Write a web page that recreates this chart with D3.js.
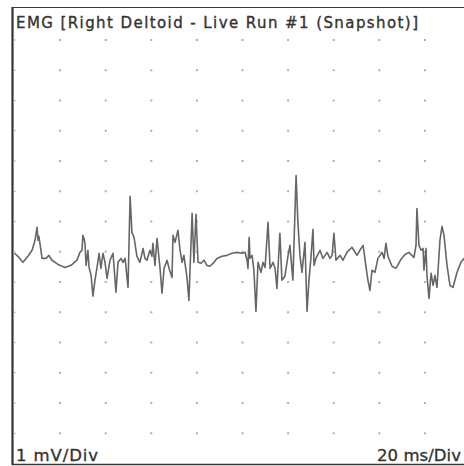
<!DOCTYPE html>
<html>
<head>
<meta charset="utf-8">
<script src="https://cdn.jsdelivr.net/npm/d3@7"></script>
<style>
  html, body { margin: 0; padding: 0; background: #ffffff; }
  svg { display: block; }
  text { font-family: "DejaVu Sans", Verdana, sans-serif; fill: #333333; stroke: #333333; stroke-width: 0.35px; }
</style>
</head>
<body>
<svg id="chart" width="464" height="466"></svg>
<script>
// ---- Data ----
const titleText = "EMG [Right Deltoid - Live Run #1 (Snapshot)]";
const ampLabel = "1 mV/Div";
const timeLabel = "20 ms/Div";

// time (ms) of each sample of the trace
const timeMs = [
  0, 1.5, 3.7, 5.9, 7.7, 9.0, 9.9, 10.3, 10.7, 12.1,
  13.8, 15.1, 16.4, 19.1, 22.1, 24.8, 27.4, 28.7, 29.6, 30.0,
  30.5, 30.9, 31.4, 32.2, 32.7, 33.6, 34.4, 35.3, 36.2, 37.1,
  37.9, 38.8, 39.7, 40.6, 41.9, 43.2, 44.1, 44.5, 45.4, 46.7,
  47.6, 48.5, 49.8, 50.7, 51.5, 52.4, 53.7, 55.0, 56.4, 57.2,
  58.1, 59.4, 60.3, 60.7, 61.6, 62.5, 63.8, 64.7, 65.6, 66.9,
  67.8, 69.1, 69.5, 70.4, 71.7, 72.6, 73.5, 74.3, 75.7, 76.5,
  77.9, 78.7, 79.6, 80.5, 81.8, 83.1, 84.4, 85.7, 87.5, 88.8,
  91.0, 93.2, 95.4, 97.6, 99.8, 101.1, 102.0, 102.4, 102.9, 103.3,
  104.2, 105.0, 105.9, 106.8, 108.1, 109.0, 109.9, 111.2, 112.1, 113.4,
  114.3, 115.1, 116.4, 117.3, 118.6, 120.0, 120.8, 122.1, 123.5, 124.3,
  125.2, 126.1, 127.4, 128.3, 129.2, 130.0, 130.9, 131.4, 132.2, 134.0,
  135.3, 137.1, 138.4, 139.3, 140.1, 141.0, 142.8, 144.1, 145.8, 148.0,
  150.2, 151.5, 152.9, 154.2, 155.0, 155.9, 156.8, 158.1, 159.4, 161.2,
  162.1, 162.9, 163.8, 165.6, 167.3, 169.5, 171.3, 173.0, 175.2, 176.1,
  176.5, 177.4, 178.3, 179.2, 179.6, 180.5, 180.9, 181.8, 182.7, 183.6,
  184.4, 185.3, 186.6, 187.5, 188.4, 189.7, 191.0, 192.3, 194.1, 195.8,
  198.0
];

// amplitude (mV) of each sample
const voltageMv = [
  -0.05, -0.15, -0.35, -0.15, 0.05, 0.38, 0.81, 0.38, 0.51, -0.22,
  -0.22, -0.12, -0.28, -0.42, -0.52, -0.45, -0.28, -0.02, 0.05, 0.54,
  0.44, 0.28, -0.45, 0.05, -0.52, -0.78, -1.47, -0.94, -0.52, -0.05,
  -0.55, -0.05, -0.35, -0.88, -0.28, -0.05, -0.94, -1.34, -0.35, -0.22,
  -0.35, -0.22, -1.18, 1.83, 0.64, 0.48, -0.15, -0.35, 0.11, -0.22,
  -0.28, 0.05, -0.15, 0.28, -0.45, 0.44, -0.52, -1.37, -0.55, -0.28,
  -0.55, -0.85, 0.54, 0.31, 0.71, 0.05, -0.35, -0.12, -0.88, -1.61,
  1.27, -0.35, 1.24, -0.35, -0.38, -0.28, -0.45, -0.48, -0.35, -0.22,
  -0.15, -0.12, -0.05, -0.02, -0.05, -0.02, -0.28, -0.55, 0.48, -0.22,
  -0.12, -0.61, -1.97, -0.35, -0.68, -0.35, -0.52, 0.97, -0.55, -0.35,
  -0.55, -1.21, 0.61, -0.94, -0.81, -0.12, 0.21, -0.94, 2.52, 0.97,
  -0.12, -0.68, 0.31, -1.97, -0.88, -0.22, 0.74, -0.45, -0.22, 0.05,
  -0.22, -0.02, -0.22, -0.12, 0.61, -0.28, -0.12, -0.28, -0.02, 0.15,
  -0.12, 0.05, 0.21, -0.52, -0.94, -1.28, -0.61, -0.68, -0.22, -0.02,
  -0.22, 0.28, -0.15, -0.48, -0.55, -0.25, -0.09, -0.02, -0.19, 0.21,
  1.43, 0.21, 0.05, 0.11, -0.61, 0.11, -0.78, -1.54, -0.71, -1.11,
  -0.78, -1.18, 0.38, 0.84, 0.54, -0.45, -1.11, -1.18, -0.68, -0.35,
  -0.15
];

// grid divisions
const timeDivisions = [20, 40, 60, 80, 100, 120, 140, 160, 180];      // ms
const ampDivisions = [7, 6, 5, 4, 3, 2, 1, 0, -1, -2, -3, -4, -5, -6]; // mV

// ---- Drawing ----
const svg = d3.select("#chart");

const x = d3.scaleLinear().domain([0, 200]).range([14.5, 470.5]);
const y = d3.scaleLinear().domain([7, -6]).range([40, 433.25]);

// frame
const frame = svg.append("g");
frame.append("line").attr("x1", 12).attr("x2", 470).attr("y1", 7.5).attr("y2", 7.5)
  .attr("stroke", "#3a3a3a").attr("stroke-width", 1.2);
frame.append("line").attr("x1", 12).attr("x2", 470).attr("y1", 464.5).attr("y2", 464.5)
  .attr("stroke", "#3a3a3a").attr("stroke-width", 1.5);
frame.append("line").attr("x1", 12.5).attr("x2", 12.5).attr("y1", 7).attr("y2", 465)
  .attr("stroke", "#333").attr("stroke-width", 2.2);

// dot grid
const dots = [];
timeDivisions.forEach(t => ampDivisions.forEach(v => dots.push({t, v})));
svg.append("g").selectAll("rect").data(dots).join("rect")
  .attr("x", d => x(d.t) - 1)
  .attr("y", d => y(d.v) - 1)
  .attr("width", 2).attr("height", 2)
  .attr("fill", "#b0b0b0");

// small ticks on left border
svg.append("g").selectAll("rect").data(ampDivisions).join("rect")
  .attr("x", 13.5).attr("y", d => y(d) - 0.5)
  .attr("width", 2).attr("height", 1)
  .attr("fill", "#9a9a9a");

// trace
const pts = timeMs.map((t, i) => [t, voltageMv[i]]);
const line = d3.line().x(d => x(d[0])).y(d => y(d[1])).curve(d3.curveLinear);
svg.append("path")
  .attr("d", line(pts))
  .attr("fill", "none")
  .attr("stroke", "#666666")
  .attr("stroke-width", 1.6)
  .attr("stroke-linejoin", "round");

// texts
svg.append("text").attr("x", 16).attr("y", 28)
  .style("font-size", "15px")
  .attr("textLength", 402).attr("lengthAdjust", "spacing")
  .text(titleText);
svg.append("text").attr("x", 16).attr("y", 461)
  .style("font-size", "16.5px")
  .attr("textLength", 82).attr("lengthAdjust", "spacing")
  .text(ampLabel);
svg.append("text").attr("x", 377).attr("y", 461)
  .style("font-size", "16.5px")
  .attr("textLength", 84).attr("lengthAdjust", "spacing")
  .text(timeLabel);
</script>
</body>
</html>
